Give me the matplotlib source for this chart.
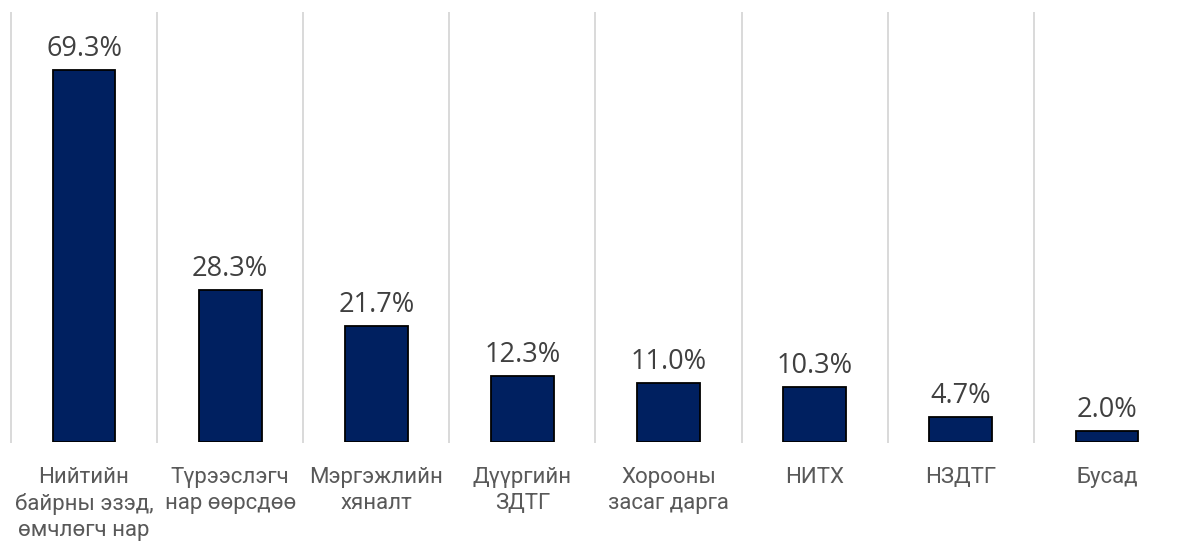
import matplotlib
matplotlib.use("Agg")
import matplotlib.pyplot as plt

categories = ["Нийтийн\nбайрны эзэд,\nөмчлөгч нар", "Түрээслэгч\nнар өөрсдөө",
              "Мэргэжлийн\nхяналт", "Дүүргийн\nЗДТГ", "Хорооны\nзасаг дарга",
              "НИТХ", "НЗДТГ", "Бусад"]
values = [69.3, 28.3, 21.7, 12.3, 11.0, 10.3, 4.7, 2.0]
value_labels = ["69.3%", "28.3%", "21.7%", "12.3%", "11.0%", "10.3%", "4.7%", "2.0%"]

W, H = 1177, 541
fig = plt.figure(figsize=(W / 100, H / 100), dpi=100)
ax = fig.add_axes([11 / W, 99 / H, 1169 / W, 429 / H])

x = list(range(len(categories)))
ax.bar(x, values, width=0.43, color="#002060", edgecolor="black", linewidth=1.3, zorder=3)

for i in range(len(categories) + 1):
    ax.axvline(i - 0.5, color="#d9d9d9", linewidth=1.4, zorder=1, clip_on=False)

for xi, v, lab in zip(x, values, value_labels):
    ax.annotate(lab, (xi, v), xytext=(0, 10), textcoords="offset points",
                ha="center", va="baseline", fontsize=19.5, color="#404040",
                family="Open Sans")

ax.set_xlim(-0.5, len(categories) - 0.5)
ax.set_ylim(0, 80)
ax.set_xticks(x)
ax.set_xticklabels(categories, fontsize=16, color="#595959", family="Roboto",
                   linespacing=1.3)
ax.tick_params(axis="x", length=0, pad=18)
ax.set_yticks([])
for s in ax.spines.values():
    s.set_visible(False)

fig.savefig("out.png", dpi=100)
